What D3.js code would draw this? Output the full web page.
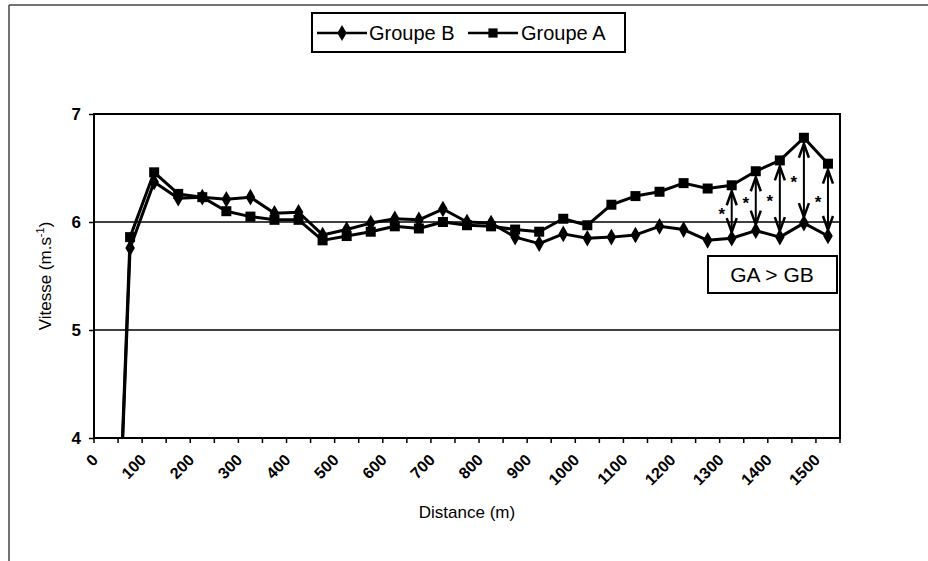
<!DOCTYPE html>
<html>
<head>
<meta charset="utf-8">
<script src="https://cdn.jsdelivr.net/npm/d3@7"></script>
<style>
  body { margin: 0; background: #fff; }
  svg { display: block; font-family: "Liberation Sans", Arial, sans-serif; }
</style>
</head>
<body>
<div id="chart"></div>
<script>
// distance (m), one category every 50 m
var distances = [0, 50, 100, 150, 200, 250, 300, 350, 400, 450, 500, 550, 600, 650, 700, 750,
  800, 850, 900, 950, 1000, 1050, 1100, 1150, 1200, 1250, 1300, 1350, 1400, 1450, 1500];
var tickLabels = ["0", "100", "200", "300", "400", "500", "600", "700", "800",
  "900", "1000", "1100", "1200", "1300", "1400", "1500"];
var groupeA = [0, 5.86, 6.46, 6.26, 6.23, 6.10, 6.05, 6.02, 6.02, 5.83, 5.87, 5.91, 5.96, 5.94, 6.00, 5.97,
  5.96, 5.93, 5.91, 6.03, 5.97, 6.16, 6.24, 6.28, 6.36, 6.31, 6.34, 6.47, 6.57, 6.78, 6.54];
var groupeB = [0, 5.76, 6.37, 6.22, 6.23, 6.21, 6.23, 6.08, 6.09, 5.88, 5.93, 5.99, 6.03, 6.02, 6.12, 6.00,
  5.99, 5.86, 5.80, 5.89, 5.85, 5.86, 5.88, 5.96, 5.93, 5.83, 5.85, 5.92, 5.86, 5.99, 5.87];
// distances where GA > GB is significant
var significant = [1300, 1350, 1400, 1450, 1500];
var yTicks = [4, 5, 6, 7];

var width = 928, height = 561;
var pLeft = 94, pRight = 840, pTop = 114, pBottom = 438;

var svg = d3.select('#chart')
  .append('svg')
  .attr('width', width)
  .attr('height', height);

// scan frame edges
svg.append('line').attr('x1', 9).attr('y1', 5).attr('x2', width).attr('y2', 5)
  .attr('stroke', '#444').attr('stroke-width', 1.5);
svg.append('line').attr('x1', 9).attr('y1', 5).attr('x2', 9).attr('y2', height)
  .attr('stroke', '#444').attr('stroke-width', 1.5);

var x = d3.scaleBand().domain(distances).range([pLeft, pRight]).padding(0);
var y = d3.scaleLinear().domain([4, 7]).range([pBottom, pTop]);
var cx = function(d) { return x(d) + x.bandwidth() / 2; };

svg.append('clipPath').attr('id', 'plot')
  .append('rect').attr('x', pLeft).attr('y', pTop)
  .attr('width', pRight - pLeft).attr('height', pBottom - pTop);

// gridlines
svg.selectAll('.grid')
  .data([5, 6])
  .enter()
  .append('line')
  .attr('x1', pLeft).attr('x2', pRight)
  .attr('y1', function(d) { return y(d); })
  .attr('y2', function(d) { return y(d); })
  .attr('stroke', '#000').attr('stroke-width', 1.5);

// plot frame
svg.append('rect')
  .attr('x', pLeft).attr('y', pTop)
  .attr('width', pRight - pLeft).attr('height', pBottom - pTop)
  .attr('fill', 'none').attr('stroke', '#000').attr('stroke-width', 2);

// x axis: ticks between categories
var xAxis = svg.append('g').attr('transform', 'translate(0,' + pBottom + ')');
var edges = distances.map(function(d) { return x(d); }).concat([pRight]);
xAxis.selectAll('line')
  .data(edges)
  .enter()
  .append('line')
  .attr('x1', function(d) { return d; })
  .attr('x2', function(d) { return d; })
  .attr('y1', 0).attr('y2', 5)
  .attr('stroke', '#000').attr('stroke-width', 1.5);
xAxis.selectAll('text')
  .data(tickLabels)
  .enter()
  .append('text')
  .attr('transform', function(d) {
    return 'translate(' + (cx(+d) - 7) + ',23) rotate(-45)';
  })
  .attr('text-anchor', 'end')
  .attr('font-size', 16)
  .attr('font-weight', 'bold')
  .text(function(d) { return d; });

// y axis
var yAxis = svg.append('g').attr('transform', 'translate(' + pLeft + ',0)');
yAxis.call(d3.axisLeft(y).tickValues(yTicks).tickSize(5).tickPadding(8).tickFormat(d3.format('d')));
yAxis.select('.domain').remove();
yAxis.selectAll('line').attr('stroke', '#000').attr('stroke-width', 1.5);
yAxis.selectAll('text')
  .attr('font-size', 17)
  .attr('font-weight', 'bold')
  .attr('font-family', '"Liberation Sans", Arial, sans-serif')
  .attr('fill', '#000');

// axis titles
var yTitle = svg.append('text')
  .attr('transform', 'translate(51,' + ((pTop + pBottom) / 2) + ') rotate(-90)')
  .attr('text-anchor', 'middle')
  .attr('font-size', 17);
yTitle.append('tspan').text('Vitesse (m.s');
yTitle.append('tspan').attr('font-size', 11).attr('dy', -7).text('-1');
yTitle.append('tspan').attr('dy', 7).text(')');

svg.append('text')
  .attr('x', (pLeft + pRight) / 2)
  .attr('y', 518)
  .attr('text-anchor', 'middle')
  .attr('font-size', 17)
  .text('Distance (m)');

// series
var plot = svg.append('g').attr('clip-path', 'url(#plot)');

function drawSeries(values, shape) {
  var line = d3.line()
    .x(function(d, i) { return cx(distances[i]); })
    .y(function(d) { return y(d); });
  plot.append('path')
    .datum(values)
    .attr('d', line)
    .attr('fill', 'none')
    .attr('stroke', '#000')
    .attr('stroke-width', 3)
    .attr('stroke-linejoin', 'round');
  plot.selectAll('.m-' + shape.name)
    .data(values)
    .enter()
    .append('path')
    .attr('class', 'm-' + shape.name)
    .attr('transform', function(d, i) {
      return 'translate(' + cx(distances[i]) + ',' + y(d) + ')';
    })
    .attr('d', d3.symbol().type(shape.type).size(shape.size))
    .attr('fill', '#000');
}

drawSeries(groupeB, { name: 'b', type: d3.symbolDiamond, size: 80 });
drawSeries(groupeA, { name: 'a', type: d3.symbolSquare, size: 100 });

// significance arrows
var arrows = svg.append('g');
significant.forEach(function(dist) {
  var i = distances.indexOf(dist);
  var xa = cx(dist);
  var ya = y(groupeA[i]) + 6, yb = y(groupeB[i]) - 6;
  arrows.append('line')
    .attr('x1', xa).attr('x2', xa).attr('y1', ya).attr('y2', yb)
    .attr('stroke', '#000').attr('stroke-width', 2);
  arrows.append('path')
    .attr('d', 'M' + (xa - 5) + ',' + (ya + 14) + 'L' + xa + ',' + ya + 'L' + (xa + 5) + ',' + (ya + 14))
    .attr('fill', 'none').attr('stroke', '#000').attr('stroke-width', 2.5);
  arrows.append('path')
    .attr('d', 'M' + (xa - 5) + ',' + (yb - 14) + 'L' + xa + ',' + yb + 'L' + (xa + 5) + ',' + (yb - 14))
    .attr('fill', 'none').attr('stroke', '#000').attr('stroke-width', 2.5);
  arrows.append('text')
    .attr('x', xa - 10)
    .attr('y', (y(groupeA[i]) + y(groupeB[i])) / 2 + 8)
    .attr('text-anchor', 'middle')
    .attr('font-size', 17)
    .attr('font-weight', 'bold')
    .text('*');
});

// GA > GB box
svg.append('rect')
  .attr('x', 708).attr('y', 256).attr('width', 129).attr('height', 37)
  .attr('fill', '#fff').attr('stroke', '#000').attr('stroke-width', 2);
svg.append('text')
  .attr('x', 772).attr('y', 282)
  .attr('text-anchor', 'middle')
  .attr('font-size', 21)
  .text('GA > GB');

// legend
var legend = svg.append('g');
legend.append('rect')
  .attr('x', 312).attr('y', 13).attr('width', 313).attr('height', 39)
  .attr('fill', '#fff').attr('stroke', '#000').attr('stroke-width', 2);
var legendItems = [
  { label: 'Groupe B', type: d3.symbolDiamond, size: 75, x0: 317, x1: 367, tx: 369 },
  { label: 'Groupe A', type: d3.symbolSquare, size: 85, x0: 468, x1: 518, tx: 521 }
];
legendItems.forEach(function(it) {
  legend.append('line')
    .attr('x1', it.x0).attr('x2', it.x1).attr('y1', 33).attr('y2', 33)
    .attr('stroke', '#000').attr('stroke-width', 2.5);
  legend.append('path')
    .attr('transform', 'translate(' + ((it.x0 + it.x1) / 2) + ',33)')
    .attr('d', d3.symbol().type(it.type).size(it.size))
    .attr('fill', '#000');
  legend.append('text')
    .attr('x', it.tx).attr('y', 40)
    .attr('font-size', 20)
    .text(it.label);
});
</script>
</body>
</html>
